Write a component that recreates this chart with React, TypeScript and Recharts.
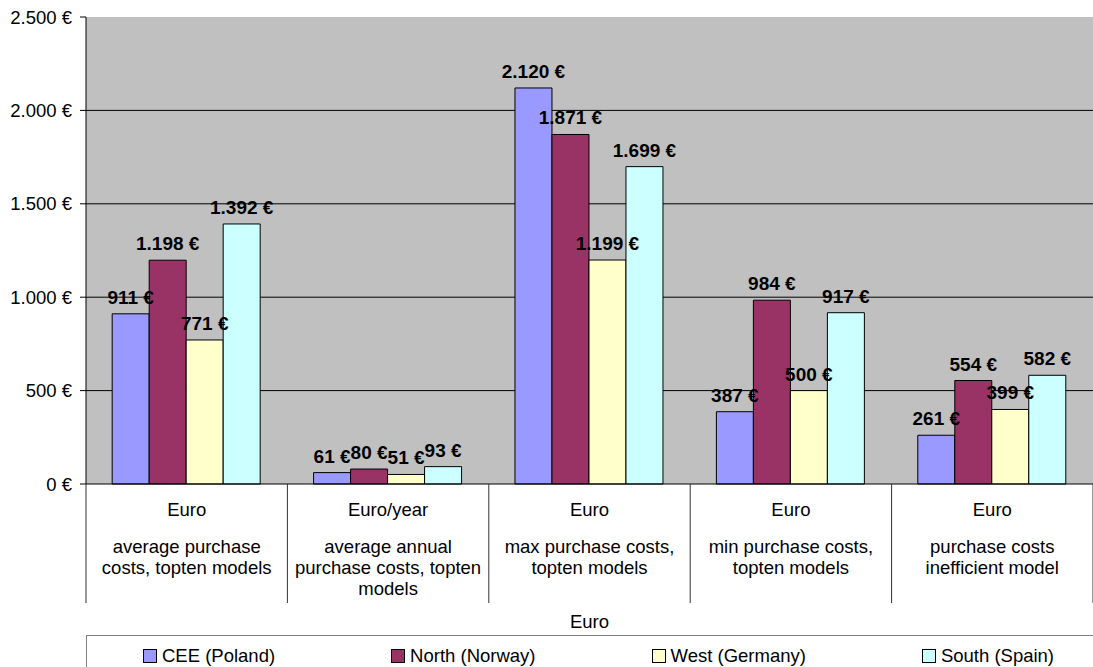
import { BarChart, Bar, XAxis, YAxis, CartesianGrid, LabelList } from "recharts";

const units = ["Euro", "Euro/year", "Euro", "Euro", "Euro"];
const descriptions = [
  "average purchase\ncosts, topten models",
  "average annual\npurchase costs, topten\nmodels",
  "max purchase costs,\ntopten models",
  "min purchase costs,\ntopten models",
  "purchase costs\ninefficient model",
];

const ceePoland = [911, 61, 2120, 387, 261];
const northNorway = [1198, 80, 1871, 984, 554];
const westGermany = [771, 51, 1199, 500, 399];
const southSpain = [1392, 93, 1699, 917, 582];

const seriesNames = ["CEE (Poland)", "North (Norway)", "West (Germany)", "South (Spain)"];
const seriesKeys = ["cee", "north", "west", "south"];
const seriesColors = ["#9999FF", "#993366", "#FFFFCC", "#CCFFFF"];

const yTicks = [0, 500, 1000, 1500, 2000, 2500];
const axisTitle = "Euro";

const data = units.map((u, i) => ({
  id: i,
  cee: ceePoland[i],
  north: northNorway[i],
  west: westGermany[i],
  south: southSpain[i],
}));

const W = 1093;
const PLOT_LEFT = 86;
const BAND = (W - PLOT_LEFT) / units.length;
const FONT = "'Liberation Sans', Arial, sans-serif";

function euro(v: number | string) {
  const n = Math.round(Number(v));
  const s = String(n).replace(/\B(?=(\d{3})+(?!\d))/g, ".");
  return `${s} €`;
}

function CategoryTick(props: any) {
  const { x, y, payload, index } = props;
  const i = Number(payload.value);
  const lines = descriptions[i].split("\n");
  const left = x - BAND / 2;
  const right = x + BAND / 2;
  return (
    <g>
      <line x1={left} y1={y} x2={left} y2={y + 119} stroke="#333" />
      {index === units.length - 1 && (
        <line x1={right} y1={y} x2={right} y2={y + 119} stroke="#333" />
      )}
      <text x={x} y={y + 32} textAnchor="middle" fontSize={18.5} fill="#000" fontFamily={FONT}>
        {units[i]}
      </text>
      {lines.map((l, k) => (
        <text
          key={k}
          x={x}
          y={y + 69 + k * 21}
          textAnchor="middle"
          fontSize={18.5}
          fill="#000"
          fontFamily={FONT}
        >
          {l}
        </text>
      ))}
    </g>
  );
}

function ValueLabel(props: any) {
  const { x, y, width, value } = props;
  return (
    <text
      x={Number(x) + Number(width) / 2}
      y={Number(y) - 10}
      textAnchor="middle"
      fontSize={19}
      fontWeight="bold"
      fill="#000"
      fontFamily={FONT}
    >
      {euro(value)}
    </text>
  );
}

export default function App() {
  return (
    <div style={{ position: "absolute", left: 0, top: 0, width: W, height: 667, overflow: "hidden", background: "#fff", fontFamily: FONT }}>
      <BarChart
        width={W}
        height={635}
        data={data}
        margin={{ top: 17, right: 0, left: 0, bottom: 0 }}
        barCategoryGap="13%"
        barGap={0}
      >
        <CartesianGrid
          vertical={false}
          stroke="#000"
          fill="#C0C0C0"
          fillOpacity={1}
          horizontalValues={yTicks.slice(1, -1)}
        />
        <XAxis
          dataKey="id"
          type="category"
          height={151}
          interval={0}
          tickSize={0}
          tickMargin={0}
          tickLine={false}
          axisLine={{ stroke: "#000" }}
          tick={<CategoryTick />}
          label={{ value: axisTitle, position: "insideBottom", offset: 7, fill: "#000", fontSize: 18.5 }}
        />
        <YAxis
          width={PLOT_LEFT}
          domain={[0, 2500]}
          ticks={yTicks}
          interval={0}
          tickSize={6}
          tickMargin={8}
          axisLine={{ stroke: "#000" }}
          tickLine={{ stroke: "#000" }}
          tick={{ fill: "#000", fontSize: 18.5, fontFamily: FONT }}
          tickFormatter={euro}
        />
        {seriesKeys.map((k, s) => (
          <Bar
            key={k}
            dataKey={k}
            name={seriesNames[s]}
            fill={seriesColors[s]}
            stroke="#000"
            strokeWidth={1}
            isAnimationActive={false}
          >
            <LabelList dataKey={k} content={<ValueLabel />} />
          </Bar>
        ))}
      </BarChart>
      <div
        style={{
          position: "absolute",
          left: PLOT_LEFT,
          top: 635,
          width: W - PLOT_LEFT,
          height: 40,
          borderTop: "1px solid #808080",
          borderLeft: "1px solid #808080",
          boxSizing: "border-box",
          display: "flex",
          alignItems: "flex-start",
          paddingLeft: 56,
          paddingTop: 9,
          gap: 116,
          fontSize: 18.5,
          lineHeight: "21px",
          color: "#000",
        }}
      >
        {seriesNames.map((n, s) => (
          <div key={n} style={{ display: "flex", alignItems: "center", whiteSpace: "nowrap" }}>
            <span
              style={{
                display: "inline-block",
                width: 12,
                height: 12,
                background: seriesColors[s],
                border: "1px solid #000",
                marginRight: 5,
              }}
            />
            {n}
          </div>
        ))}
      </div>
    </div>
  );
}
